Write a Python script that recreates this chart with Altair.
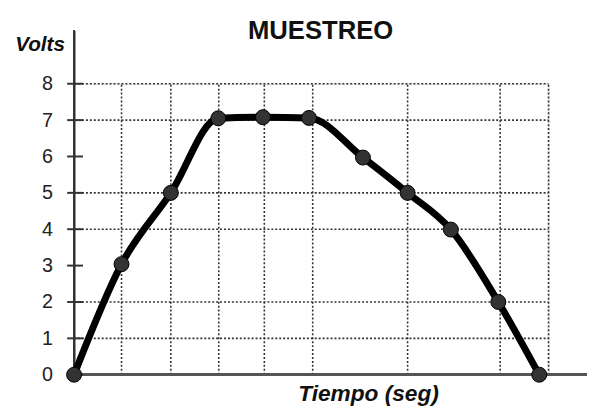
import altair as alt
import pandas as pd

# sample data
tiempo = [0, 1.02, 2.08, 3.10, 4.06, 5.05, 6.21, 7.17, 8.10, 9.12, 10.0]
volts = [0, 3.04, 5.0, 7.05, 7.08, 7.06, 5.97, 5.0, 3.99, 2.0, 0.0]
grid_t = [1.02, 2.08, 3.11, 4.09, 5.13, 7.17, 9.16, 10.2]
grid_v = [1, 2, 4, 5, 7, 8]
tick_v = [0, 1, 2, 3, 4, 5, 6, 7, 8]
titulo = ["MUESTREO"]

W, H = 481, 295
xs = alt.Scale(domain=[0, 10.2], nice=False, zero=False)
ys = alt.Scale(domain=[0, 8], nice=False)

xaxis = alt.Axis(
    title="Tiempo (seg)",
    labels=False,
    ticks=False,
    domain=False,
    grid=False,
    titleFont="Liberation Sans",
    titleFontSize=23,
    titleFontWeight="bold",
    titleFontStyle="italic",
    titleColor="#111111",
    titleX=298,
    titleY=26,
    titleAlign="center",
    titleBaseline="alphabetic",
)
yaxis = alt.Axis(
    title="Volts",
    values=tick_v,
    ticks=False,
    domain=False,
    grid=False,
    labelOverlap=False,
    labelFont="Liberation Sans",
    labelFontSize=20,
    labelColor="#222222",
    labelPadding=22,
    titleFont="Liberation Sans",
    titleFontSize=21,
    titleFontWeight="bold",
    titleFontStyle="italic",
    titleColor="#111111",
    titleAngle=0,
    titleX=-35,
    titleY=-34,
    titleAlign="center",
    titleBaseline="alphabetic",
)

df = pd.DataFrame({"t": tiempo, "v": volts})
gx = pd.DataFrame({"gx": grid_t})
gy = pd.DataFrame({"gy": grid_v})
tk = pd.DataFrame({"tv": tick_v})
tt = pd.DataFrame({"txt": titulo})

grid_style = dict(color="#333333", strokeWidth=1.6, strokeDash=[2, 2])

vgrid = alt.Chart(gx).mark_rule(**grid_style).encode(
    x=alt.X("gx:Q", scale=xs, axis=xaxis),
    y=alt.datum(0, scale=ys, axis=yaxis), y2=alt.datum(8)
)
hgrid = alt.Chart(gy).mark_rule(**grid_style).encode(
    y=alt.Y("gy:Q", scale=ys, axis=yaxis),
    x=alt.datum(0, scale=xs, axis=xaxis), x2=alt.datum(10.2)
)
yline = alt.Chart(tk).mark_rule(color="#333333", strokeWidth=2).encode(
    x=alt.datum(0, scale=xs, axis=xaxis),
    y=alt.datum(0, scale=ys, axis=yaxis), y2=alt.datum(9.46)
)
xline = alt.Chart(tk).mark_rule(color="#555555", strokeWidth=2.5).encode(
    y=alt.datum(0, scale=ys, axis=yaxis),
    x=alt.datum(0, scale=xs, axis=xaxis), x2=alt.datum(11.1)
)
yticks = alt.Chart(tk).mark_rule(color="#333333", strokeWidth=2).encode(
    y=alt.Y("tv:Q", scale=ys, axis=yaxis), x=alt.value(-7), x2=alt.value(9)
)
line = alt.Chart(df).mark_line(
    color="black", strokeWidth=7, interpolate="monotone"
).encode(
    x=alt.X("t:Q", scale=xs, axis=xaxis),
    y=alt.Y("v:Q", scale=ys, axis=yaxis),
)
points = alt.Chart(df).mark_point(
    filled=True, shape="circle", size=230, color="#333333",
    stroke="black", strokeWidth=1, opacity=1
).encode(
    x=alt.X("t:Q", scale=xs, axis=xaxis),
    y=alt.Y("v:Q", scale=ys, axis=yaxis),
)
title = alt.Chart(tt).mark_text(
    font="Liberation Sans", fontSize=26, fontWeight="bold", color="#111111",
    align="center", baseline="alphabetic"
).encode(
    text="txt:N",
    x=alt.datum(5.3, scale=xs, axis=xaxis),
    y=alt.datum(9.22, scale=ys, axis=yaxis),
)

chart = alt.layer(vgrid, hgrid, xline, yline, yticks, line, points, title).properties(
    width=W,
    height=H,
    autosize=alt.AutoSizeParams(type="none"),
    padding={"left": 67, "top": 74, "right": 39, "bottom": 34},
).configure_view(stroke=None).configure_axis(grid=False).configure(background="white")

chart.save("out.html", embed_options={"renderer": "svg", "actions": False})
